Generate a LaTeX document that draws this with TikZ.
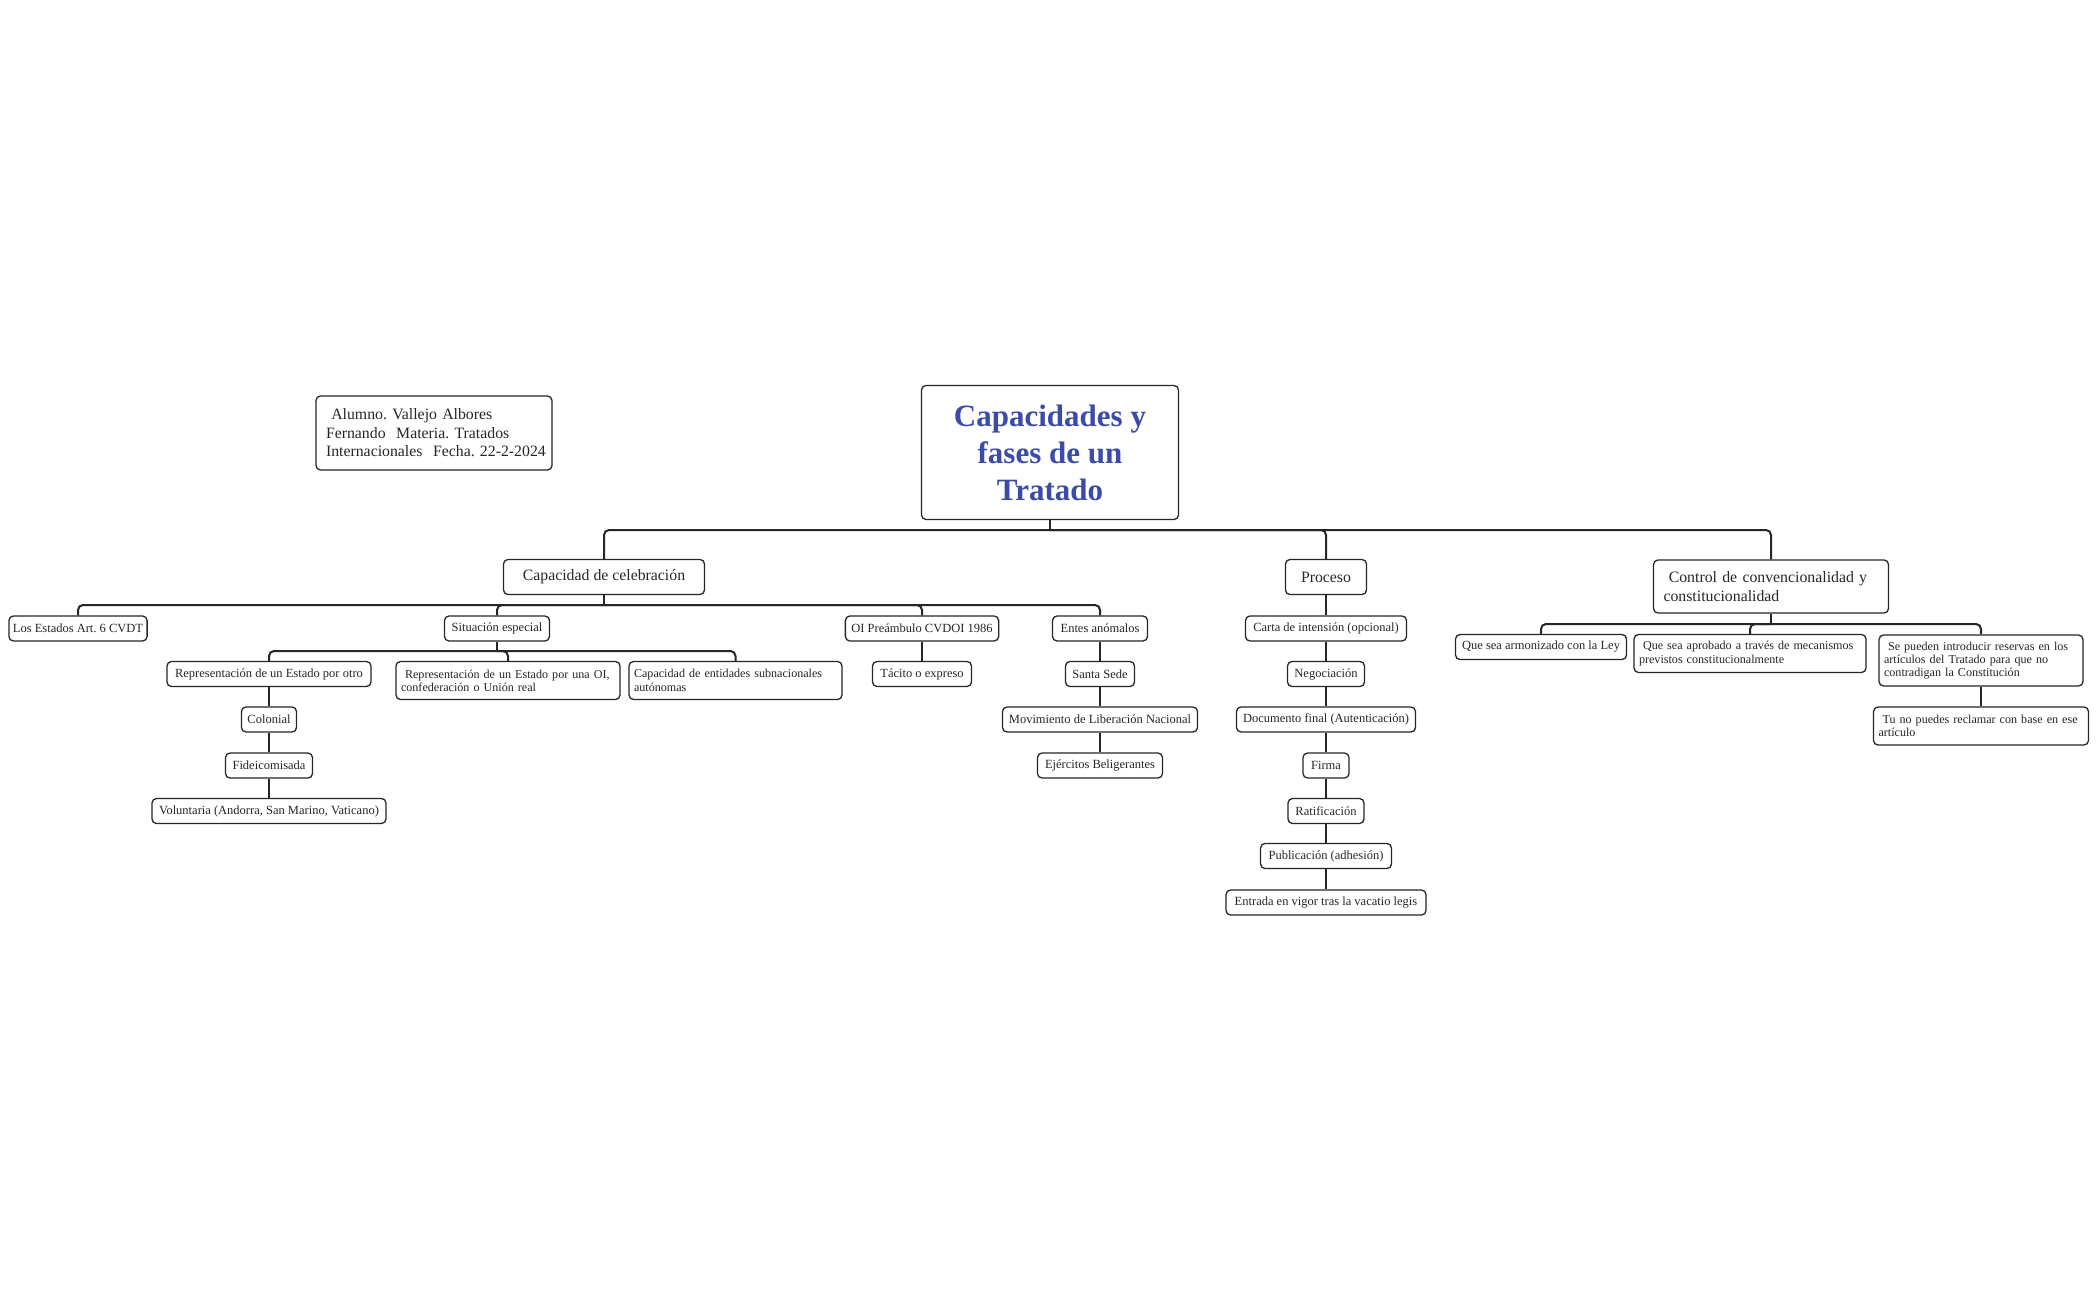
\documentclass[tikz,border=0pt]{standalone}
\usepackage{fontspec}
\setmainfont{Liberation Serif}
\frenchspacing
\definecolor{linec}{HTML}{262626}
\definecolor{titleblue}{HTML}{3A4BA8}
\tikzset{
  box/.style={draw=linec, line width=1.3pt, rounded corners=4.5pt, fill=white, inner xsep=6pt, inner ysep=0pt, text=linec},
  sm/.style={box, font=\fontsize{12.5}{13.5}\selectfont, minimum height=25pt},
  smm/.style={box, font=\fontsize{12.1}{13.3}\selectfont, align=left, inner xsep=5pt},
  md/.style={box, font=\fontsize{15.8}{18.5}\selectfont, minimum height=35pt},
  ttl/.style={box, font=\bfseries\fontsize{31}{37}\selectfont, text=titleblue, align=center, minimum width=257pt, minimum height=134pt},
  conn/.style={draw=linec, line width=2pt},
  elbow/.style={conn, rounded corners=5pt},
}
\newcommand{\Ln}[1]{\mbox{#1}}
\begin{document}
\begin{tikzpicture}[x=1pt,y=-1pt]
\fill[white] (0,0) rectangle (2100,1300);
\useasboundingbox (0,0) rectangle (2100,1300);

% bars
\coordinate (mainbar) at (0,530);
\coordinate (capbar) at (0,605);
\coordinate (sitbar) at (0,651);
\coordinate (ctrlbar) at (0,624);

% nodes
\node[ttl] (title) at (1050,452.5) {Capacidades y\\fases de un\\Tratado};
\node[md, minimum height=74pt, text width=216pt, inner xsep=10pt, align=left] (info) at (434,433)
  {\Ln{\ Alumno. Vallejo Albores}\\\Ln{Fernando\ \ Materia. Tratados}\\\Ln{Internacionales\ \ Fecha. 22-2-2024}};

\node[md, minimum width=201pt] (cap) at (604,577) {Capacidad de celebración};
\node[md, minimum width=81pt] (proc) at (1326,577) {Proceso};
\node[md, minimum height=53pt, text width=215pt, align=left, inner xsep=10pt] (ctrl) at (1771,586.5)
  {\Ln{\ Control de convencionalidad y}\\\Ln{constitucionalidad}};

% Capacidad children
\node[sm, minimum width=135pt, inner xsep=4pt] (los) at (78,628.5) {Los Estados Art. 6 CVDT};
\node[sm, minimum width=105pt] (sit) at (497,628.5) {Situación especial};
\node[sm, minimum width=148pt] (oi) at (922,628.5) {OI Preámbulo CVDOI 1986};
\node[sm, minimum width=95pt] (entes) at (1100,628.5) {Entes anómalos};

\node[sm, minimum width=204pt] (repotro) at (269,674) {Representación de un Estado por otro};
\node[smm, minimum height=38pt, text width=214pt] (repoi) at (508,680.5)
  {\Ln{\ Representación de un Estado por una OI,}\\\Ln{confederación o Unión real}};
\node[smm, minimum height=38pt, text width=203pt] (capent) at (735.5,680.5)
  {\Ln{Capacidad de entidades subnacionales}\\\Ln{autónomas}};

\node[sm, minimum width=55pt] (colonial) at (269,719.5) {Colonial};
\node[sm, minimum width=87pt] (fidei) at (269,765.5) {Fideicomisada};
\node[sm, minimum width=234pt] (volun) at (269,811) {Voluntaria (Andorra, San Marino, Vaticano)};

\node[sm, minimum width=99pt] (tacito) at (922,674) {Tácito o expreso};

\node[sm, minimum width=69pt] (santa) at (1100,674) {Santa Sede};
\node[sm, minimum width=195pt] (movim) at (1100,719.5) {Movimiento de Liberación Nacional};
\node[sm, minimum width=125pt] (ejerc) at (1100,765.5) {Ejércitos Beligerantes};

% Proceso chain
\node[sm, minimum width=161pt] (carta) at (1326,628.5) {Carta de intensión (opcional)};
\node[sm, minimum width=77pt] (negoc) at (1326,674) {Negociación};
\node[sm, minimum width=179pt] (docum) at (1326,719.5) {Documento final (Autenticación)};
\node[sm, minimum width=46pt] (firma) at (1326,765.5) {Firma};
\node[sm, minimum width=76pt] (ratif) at (1326,811) {Ratificación};
\node[sm, minimum width=131pt] (public) at (1326,856) {Publicación (adhesión)};
\node[sm, minimum width=200pt] (entrada) at (1326,902.5) {Entrada en vigor tras la vacatio legis};

% Control children
\node[sm, minimum width=171pt] (armon) at (1541,647) {Que sea armonizado con la Ley};
\node[smm, minimum height=38pt, text width=222pt] (aprob) at (1750,653.5)
  {\Ln{\ Que sea aprobado a través de mecanismos}\\\Ln{previstos constitucionalmente}};
\node[smm, minimum height=51pt, text width=194pt] (sepued) at (1981,660.5)
  {\Ln{\ Se pueden introducir reservas en los}\\\Ln{artículos del Tratado para que no}\\\Ln{contradigan la Constitución}};
\node[smm, minimum height=38pt, text width=205pt] (tuno) at (1981,726)
  {\Ln{\ Tu no puedes reclamar con base en ese}\\\Ln{artículo}};

% main bar
\draw[conn] (title.south) -- (title.south |- mainbar);
\draw[elbow] (title.south |- mainbar) -| (cap.north);
\draw[elbow] (title.south |- mainbar) -| (proc.north);
\draw[elbow] (title.south |- mainbar) -| (ctrl.north);

% capacidad bar
\draw[conn] (cap.south) -- (cap.south |- capbar);
\draw[elbow] (cap.south |- capbar) -| (los.north);
\draw[elbow] (cap.south |- capbar) -| (sit.north);
\draw[elbow] (cap.south |- capbar) -| (oi.north);
\draw[elbow] (cap.south |- capbar) -| (entes.north);

% situacion bar
\draw[conn] (sit.south) -- (sit.south |- sitbar);
\draw[elbow] (sit.south |- sitbar) -| (repotro.north);
\draw[elbow] (sit.south |- sitbar) -| (repoi.north);
\draw[elbow] (sit.south |- sitbar) -| (capent.north);

% chains
\draw[conn] (repotro.south) -- (colonial.north);
\draw[conn] (colonial.south) -- (fidei.north);
\draw[conn] (fidei.south) -- (volun.north);
\draw[conn] (oi.south) -- (tacito.north);
\draw[conn] (entes.south) -- (santa.north);
\draw[conn] (santa.south) -- (movim.north);
\draw[conn] (movim.south) -- (ejerc.north);
\draw[conn] (proc.south) -- (carta.north);
\draw[conn] (carta.south) -- (negoc.north);
\draw[conn] (negoc.south) -- (docum.north);
\draw[conn] (docum.south) -- (firma.north);
\draw[conn] (firma.south) -- (ratif.north);
\draw[conn] (ratif.south) -- (public.north);
\draw[conn] (public.south) -- (entrada.north);

% control bar
\draw[conn] (ctrl.south) -- (ctrl.south |- ctrlbar);
\draw[elbow] (ctrl.south |- ctrlbar) -| (armon.north);
\draw[elbow] (ctrl.south |- ctrlbar) -| (aprob.north);
\draw[elbow] (ctrl.south |- ctrlbar) -| (sepued.north);
\draw[conn] (sepued.south) -- (tuno.north);
\end{tikzpicture}
\end{document}
